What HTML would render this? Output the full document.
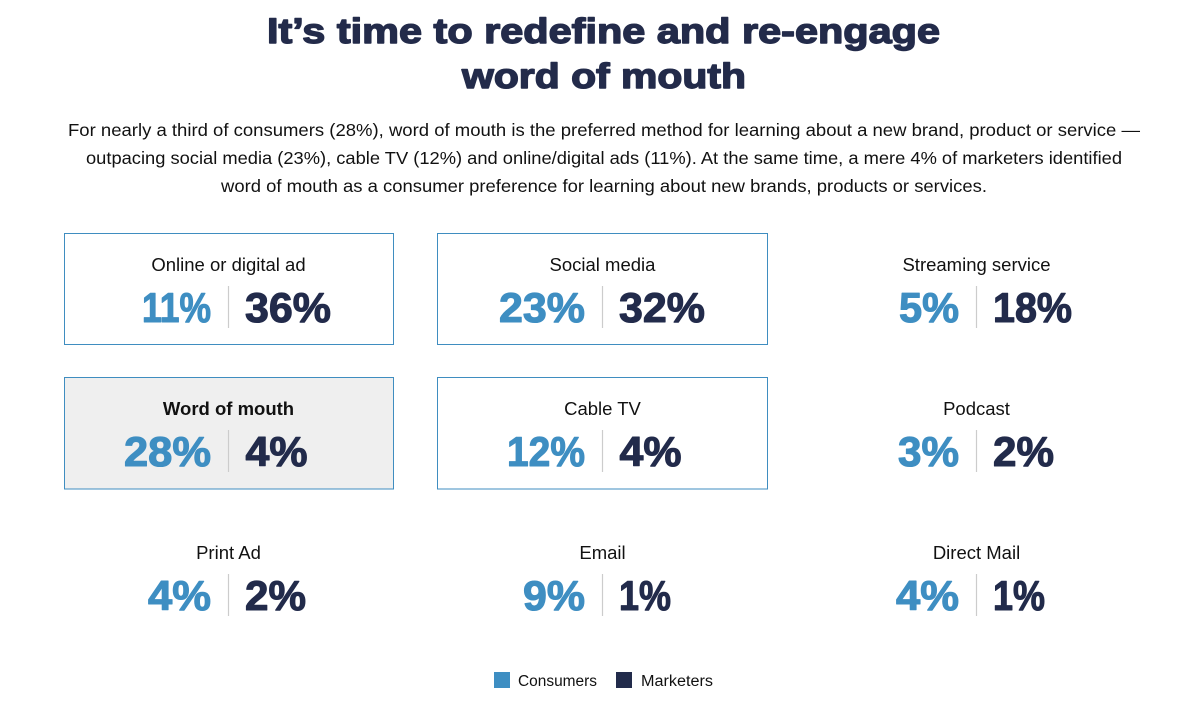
<!DOCTYPE html>
<html>
<head>
<meta charset="utf-8">
<style>
  html,body{margin:0;padding:0;background:#fff;}
  svg{display:block;}
  .title{font-family:"Liberation Sans",sans-serif;font-weight:bold;font-size:35px;fill:#232b4a;stroke:#232b4a;stroke-width:1.4px;stroke-linejoin:round;}
  .para{font-family:"Liberation Sans",sans-serif;font-size:17.5px;fill:#111;}
  .lbl{font-family:"Liberation Sans",sans-serif;font-size:18.5px;fill:#111;}
  .lblb{font-family:"Liberation Sans",sans-serif;font-size:18.5px;font-weight:bold;fill:#111;}
  .c{font-family:"Liberation Sans",sans-serif;font-weight:bold;font-size:42px;fill:#3e8ec2;stroke:#3e8ec2;stroke-width:1.1px;stroke-linejoin:round;}
  .m{font-family:"Liberation Sans",sans-serif;font-weight:bold;font-size:42px;fill:#222b4b;stroke:#222b4b;stroke-width:1.1px;stroke-linejoin:round;}
  .leg{font-family:"Liberation Sans",sans-serif;font-size:15.5px;fill:#111;}
</style>
</head>
<body>
<svg width="1200" height="719" viewBox="0 0 1200 719" xmlns="http://www.w3.org/2000/svg">
  <!-- Title -->
  <text class="title" x="267" y="43" textLength="673" lengthAdjust="spacingAndGlyphs">It’s time to redefine and re-engage</text>
  <text class="title" x="462" y="88" textLength="284" lengthAdjust="spacingAndGlyphs">word of mouth</text>

  <!-- Paragraph -->
  <text class="para" x="68" y="136" textLength="1072" lengthAdjust="spacingAndGlyphs">For nearly a third of consumers (28%), word of mouth is the preferred method for learning about a new brand, product or service —</text>
  <text class="para" x="86" y="164" textLength="1036" lengthAdjust="spacingAndGlyphs">outpacing social media (23%), cable TV (12%) and online/digital ads (11%). At the same time, a mere 4% of marketers identified</text>
  <text class="para" x="221" y="192" textLength="766" lengthAdjust="spacingAndGlyphs">word of mouth as a consumer preference for learning about new brands, products or services.</text>

  <!-- Boxes -->
  <rect x="64.5" y="233.5" width="329" height="111" fill="#fff" stroke="#3f8dc0" stroke-width="1"/>
  <rect x="437.5" y="233.5" width="330" height="111" fill="#fff" stroke="#3f8dc0" stroke-width="1"/>
  <rect x="64.5" y="377.5" width="329" height="111.5" fill="#efefef" stroke="#3f8dc0" stroke-width="1"/>
  <rect x="437.5" y="377.5" width="330" height="111.5" fill="#fff" stroke="#3f8dc0" stroke-width="1"/>

  <!-- Dividers -->
  <g stroke="#cccccc" stroke-width="1.2">
    <line x1="228.5" y1="286" x2="228.5" y2="328"/>
    <line x1="602.5" y1="286" x2="602.5" y2="328"/>
    <line x1="976.5" y1="286" x2="976.5" y2="328"/>
    <line x1="228.5" y1="430" x2="228.5" y2="472"/>
    <line x1="602.5" y1="430" x2="602.5" y2="472"/>
    <line x1="976.5" y1="430" x2="976.5" y2="472"/>
    <line x1="228.5" y1="574" x2="228.5" y2="616"/>
    <line x1="602.5" y1="574" x2="602.5" y2="616"/>
    <line x1="976.5" y1="574" x2="976.5" y2="616"/>
  </g>

  <!-- Row 1 -->
  <text class="lbl" x="228.5" y="271" text-anchor="middle">Online or digital ad</text>
  <text class="c" x="142" y="322" textLength="69" lengthAdjust="spacingAndGlyphs">11%</text>
  <text class="m" x="245" y="322" textLength="86" lengthAdjust="spacingAndGlyphs">36%</text>

  <text class="lbl" x="602.5" y="271" text-anchor="middle">Social media</text>
  <text class="c" x="499" y="322" textLength="86" lengthAdjust="spacingAndGlyphs">23%</text>
  <text class="m" x="619" y="322" textLength="86" lengthAdjust="spacingAndGlyphs">32%</text>

  <text class="lbl" x="976.5" y="271" text-anchor="middle">Streaming service</text>
  <text class="c" x="899" y="322" textLength="60" lengthAdjust="spacingAndGlyphs">5%</text>
  <text class="m" x="993" y="322" textLength="79" lengthAdjust="spacingAndGlyphs">18%</text>

  <!-- Row 2 -->
  <text class="lblb" x="228.5" y="415" text-anchor="middle">Word of mouth</text>
  <text class="c" x="124" y="466" textLength="87" lengthAdjust="spacingAndGlyphs">28%</text>
  <text class="m" x="245.5" y="466" textLength="62" lengthAdjust="spacingAndGlyphs">4%</text>

  <text class="lbl" x="602.5" y="415" text-anchor="middle">Cable TV</text>
  <text class="c" x="507" y="466" textLength="78" lengthAdjust="spacingAndGlyphs">12%</text>
  <text class="m" x="619.5" y="466" textLength="62" lengthAdjust="spacingAndGlyphs">4%</text>

  <text class="lbl" x="976.5" y="415" text-anchor="middle">Podcast</text>
  <text class="c" x="898" y="466" textLength="61" lengthAdjust="spacingAndGlyphs">3%</text>
  <text class="m" x="993" y="466" textLength="61" lengthAdjust="spacingAndGlyphs">2%</text>

  <!-- Row 3 -->
  <text class="lbl" x="228.5" y="559" text-anchor="middle">Print Ad</text>
  <text class="c" x="148" y="610" textLength="63" lengthAdjust="spacingAndGlyphs">4%</text>
  <text class="m" x="245" y="610" textLength="61" lengthAdjust="spacingAndGlyphs">2%</text>

  <text class="lbl" x="602.5" y="559" text-anchor="middle">Email</text>
  <text class="c" x="523" y="610" textLength="62" lengthAdjust="spacingAndGlyphs">9%</text>
  <text class="m" x="619" y="610" textLength="52" lengthAdjust="spacingAndGlyphs">1%</text>

  <text class="lbl" x="976.5" y="559" text-anchor="middle">Direct Mail</text>
  <text class="c" x="896" y="610" textLength="63" lengthAdjust="spacingAndGlyphs">4%</text>
  <text class="m" x="993" y="610" textLength="52" lengthAdjust="spacingAndGlyphs">1%</text>

  <!-- Legend -->
  <rect x="494" y="672" width="16" height="16" fill="#3e8ec2"/>
  <text class="leg" x="518" y="686" textLength="79" lengthAdjust="spacingAndGlyphs">Consumers</text>
  <rect x="616" y="672" width="16" height="16" fill="#222b4b"/>
  <text class="leg" x="641" y="686" textLength="72" lengthAdjust="spacingAndGlyphs">Marketers</text>
</svg>
</body>
</html>
